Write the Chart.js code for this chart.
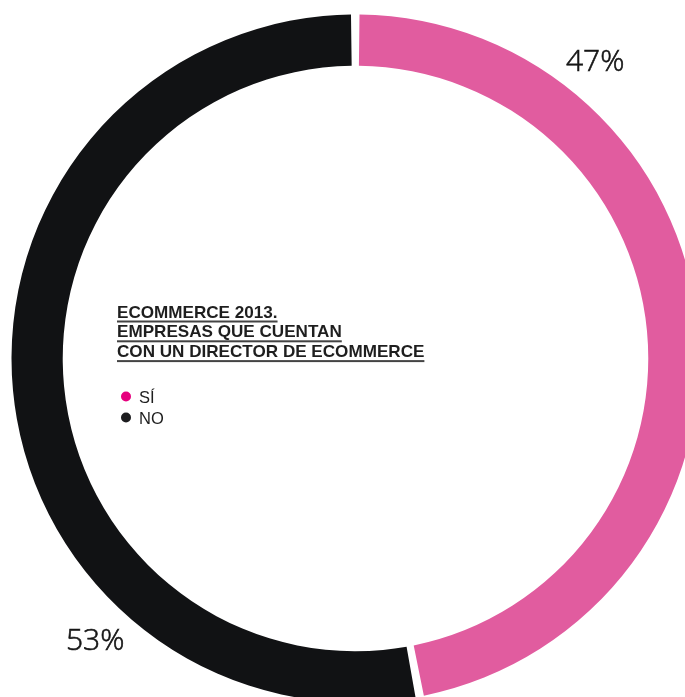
<!DOCTYPE html>
<html>
<head>
<meta charset="utf-8">
<script src="https://cdn.jsdelivr.net/npm/chart.js@4"></script>
<style>
  html, body { margin: 0; padding: 0; background: #fff; overflow: hidden; }
  #wrap { width: 685px; height: 697px; overflow: hidden; position: relative; }
  #ring { position: absolute; left: 0; top: 0; }
</style>
</head>
<body>
<div id="wrap"><canvas id="ring" width="711" height="717"></canvas></div>
<script>
(function() {
    // Survey answers, share of companies (percent)
    const labels = ['SÍ', 'NO'];
    const values = [47, 53];
    const arcColors = ['#e15c9f', '#111214'];
    const legendColors = ['#e6007e', '#1d1d1f'];
    const titleLines = ['ECOMMERCE 2013.', 'EMPRESAS QUE CUENTAN', 'CON UN DIRECTOR DE ECOMMERCE'];

    // Draws the title block, the little legend and the % labels outside the ring
    const textPlugin = {
        id: 'ringText',
        afterDraw(chart) {
            const ctx = chart.ctx;
            const arcs = chart.getDatasetMeta(0).data;
            ctx.save();

            // percentage labels, placed around the ring (angle in degrees clockwise from top)
            const angles = [38.8, 222.9];
            ctx.font = '300 30px "Open Sans", sans-serif';
            ctx.fillStyle = '#161616';
            ctx.strokeStyle = '#161616';
            ctx.lineWidth = 0.6;
            ctx.textAlign = 'center';
            ctx.textBaseline = 'alphabetic';
            arcs.forEach(function(arc, i) {
                const r = arc.outerRadius + 41;
                const a = angles[i] * Math.PI / 180;
                const x = arc.x + r * Math.sin(a);
                const y = arc.y - r * Math.cos(a);
                ctx.fillText(values[i] + '%', x, y + 11);
                ctx.strokeText(values[i] + '%', x, y + 11);
            });

            // underlined title
            ctx.textAlign = 'left';
            ctx.font = 'bold 17.1px "Liberation Sans", Arial, sans-serif';
            titleLines.forEach(function(line, i) {
                const y = 317.5 + i * 19.8;
                ctx.fillStyle = '#1e1e1e';
                ctx.fillText(line, 117, y);
                const w = ctx.measureText(line).width;
                ctx.fillStyle = '#444';
                ctx.fillRect(117, y + 3, w, 2);
            });

            // legend
            ctx.font = '16.5px "Liberation Sans", Arial, sans-serif';
            labels.forEach(function(lab, i) {
                const y = 402.5 + i * 21;
                ctx.fillStyle = legendColors[i];
                ctx.beginPath();
                ctx.arc(126, y - 6, 5, 0, Math.PI * 2);
                ctx.fill();
                ctx.fillStyle = '#1e1e1e';
                ctx.fillText(lab, 139, y);
            });
            ctx.restore();
        }
    };

    new Chart(document.getElementById('ring'), {
        type: 'doughnut',
        data: {
            labels: labels,
            datasets: [{
                data: values,
                backgroundColor: arcColors,
                borderWidth: 0,
                spacing: 5
            }]
        },
        options: {
            responsive: false,
            animation: false,
            cutout: '85%',
            layout: { padding: 11.5 },
            plugins: {
                legend: { display: false },
                tooltip: { enabled: false }
            }
        },
        plugins: [textPlugin]
    });
})();
</script>
</body>
</html>
